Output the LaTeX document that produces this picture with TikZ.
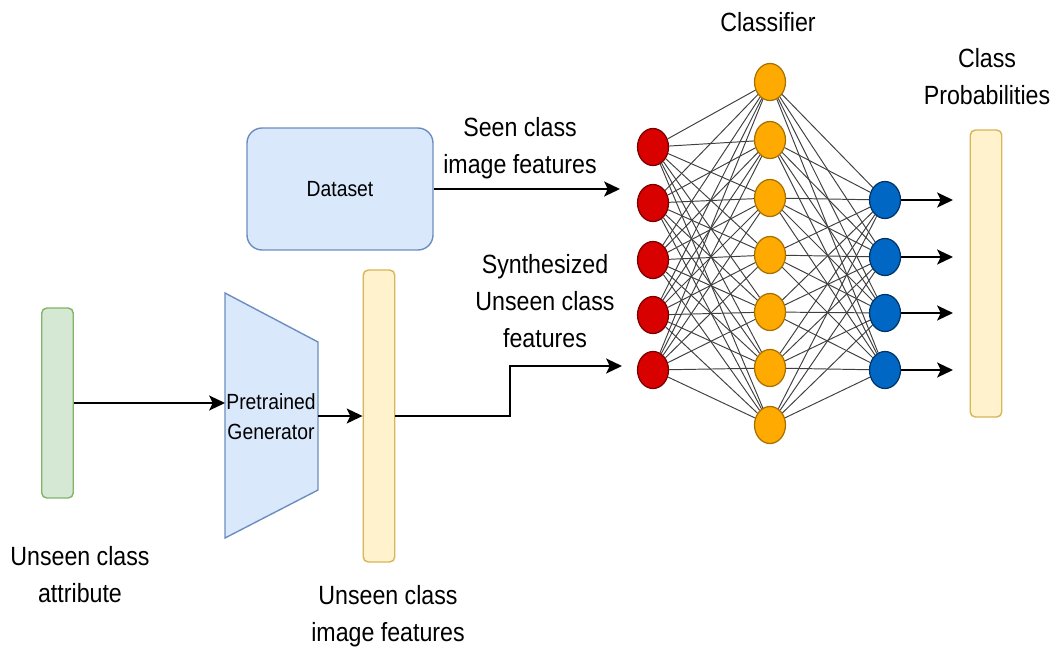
\documentclass[tikz,border=0pt]{standalone}
\usepackage{fontspec}
\setmainfont{Liberation Sans}[FakeStretch=0.88]
\usepackage{tikz}
\usetikzlibrary{arrows.meta,shapes.geometric,positioning}
\definecolor{attrfill}{HTML}{D5E8D4}
\definecolor{attrline}{HTML}{82B366}
\definecolor{datafill}{HTML}{DAE8FC}
\definecolor{dataline}{HTML}{6C8EBF}
\definecolor{featfill}{HTML}{FFF2CC}
\definecolor{featline}{HTML}{D6B656}
\definecolor{inred}{HTML}{D90000}
\definecolor{inredline}{HTML}{7A0000}
\definecolor{hidorange}{HTML}{FFAA00}
\definecolor{hidline}{HTML}{A87000}
\definecolor{outblue}{HTML}{0068C4}
\definecolor{outline}{HTML}{003366}

\begin{document}
\begin{tikzpicture}[x=0.02cm,y=-0.02cm,
  lbl/.style={align=center,font=\fontsize{15}{21}\selectfont},
  bar/.style={draw,rounded corners=0.1cm,minimum width=0.63cm,line width=0.8pt},
  neuron/.style={ellipse,draw,line width=0.7pt,minimum width=0.62cm,minimum height=0.74cm,inner sep=0pt},
  link/.style={black!75,line width=0.55pt},
  arr/.style={-{Stealth[length=9pt,width=8.5pt,inset=2pt]},line width=1.1pt}]
  \useasboundingbox (0,0) rectangle (1051,649);

  \node[bar,fill=attrfill,draw=attrline,minimum height=3.8cm] (attr) at (57.5,403) {};
  \node[bar,fill=featfill,draw=featline,minimum height=5.84cm] (feat) at (379,416) {};
  \node[bar,fill=featfill,draw=featline,minimum height=5.74cm] (prob) at (986,273.5) {};
  \node[draw=dataline,fill=datafill,rounded corners=0.3cm,minimum width=3.72cm,minimum height=2.44cm,line width=0.8pt,font=\fontsize{12.5}{14}\selectfont] (data) at (340,189) {Dataset};

  \draw[fill=datafill,draw=dataline,line width=0.8pt] (225,293) -- (318,342) -- (318,490) -- (225,538) -- cycle;
  \node[font=\fontsize{12.5}{17}\selectfont,align=center] (gen) at (271,417) {Pretrained\\Generator};
  \coordinate (genin) at (225,403);
  \coordinate (genout) at (318,416);

  \foreach \i/\y in {1/147,2/203,3/260,4/315,5/370}
    \node[neuron,fill=inred,draw=inredline] (r\i) at (653,\y) {};
  \foreach \i/\y in {1/82,2/140,3/198,4/255,5/312,6/368,7/425}
    \node[neuron,fill=hidorange,draw=hidline] (h\i) at (770,\y) {};
  \foreach \i/\y in {1/200,2/257,3/313,4/370}
    \node[neuron,fill=outblue,draw=outline] (o\i) at (885,\y) {};
  \foreach \i in {1,...,5}
    \foreach \j in {1,...,7}
      \draw[link] (r\i) -- (h\j);
  \foreach \j in {1,...,7}
    \foreach \k in {1,...,4}
      \draw[link] (h\j) -- (o\k);
  \foreach \k/\y in {1/200,2/257,3/313,4/370} {
    \coordinate (p\k) at (953,\y);
    \draw[arr] (o\k) -- (p\k);
  }

  \coordinate (seenin) at (620,189);
  \coordinate (bend) at (510,366);
  \coordinate (synin) at (622,366);
  \draw[arr] (data) -- (seenin);
  \draw[arr] (attr) -- (genin);
  \draw[arr] (genout) -- (feat);
  \draw[arr] (feat.east) -| (bend) -- (synin);

  \node[lbl] (seenlbl) at (520,148) {Seen class\\image features};
  \node[lbl] (synlbl) at (545,301) {Synthesized\\Unseen class\\features};
  \node[lbl] (attrlbl) at (80,575) {Unseen class\\attribute};
  \node[lbl] (featlbl) at (388,616) {Unseen class\\image features};
  \node[lbl] (clslbl) at (768,22) {Classifier};
  \node[lbl] (problbl) at (987,77) {Class\\Probabilities};
\end{tikzpicture}
\end{document}
